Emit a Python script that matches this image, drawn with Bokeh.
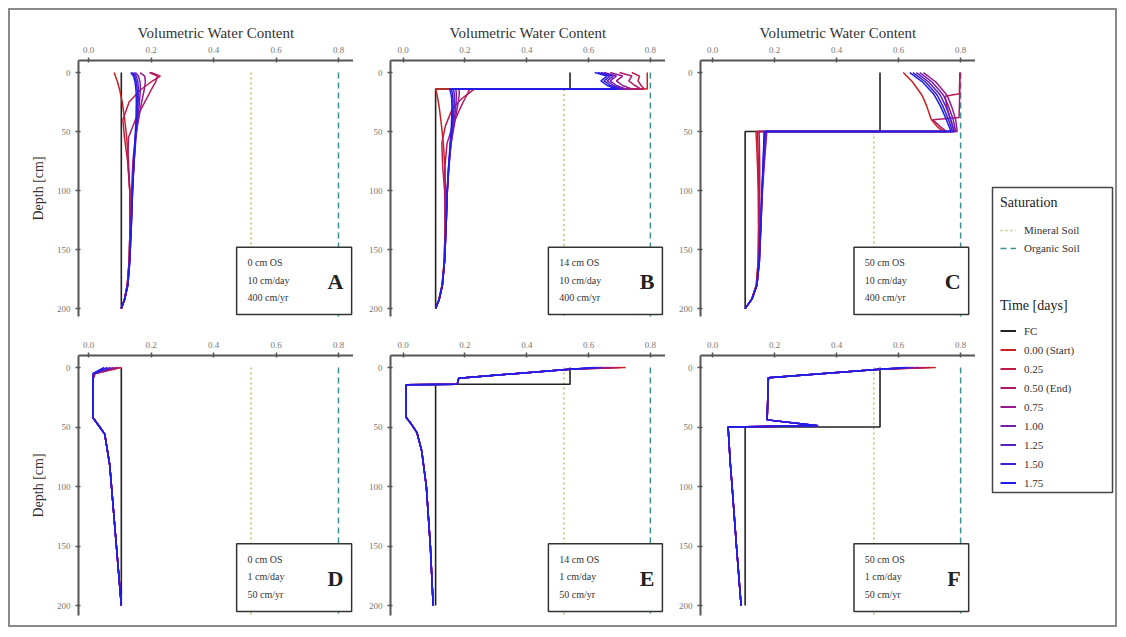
from bokeh.plotting import figure
from bokeh.models import (Range1d, FixedTicker, PrintfTickFormatter, BoxAnnotation,
                          Label, Legend, LegendItem, Spacer)
from bokeh.layouts import row, column
from bokeh.embed import file_html
from bokeh.resources import INLINE

FONT = "Liberation Serif"

# ---------------- data ----------------
TIME_LABELS = ["0.00 (Start)", "0.25", "0.50 (End)", "0.75", "1.00", "1.25", "1.50", "1.75"]
TIME_COLORS = ["#cc2020", "#c01a48", "#ae186c", "#961a8e", "#781cac", "#581ec4", "#3a1ed8", "#1e1eea"]
FC_COLOR = "#222222"
MINERAL_COLOR = "#c2c060"
ORGANIC_COLOR = "#3f9090"

X_TICKS = [0.0, 0.2, 0.4, 0.6, 0.8]
Y_TICKS = [0, 50, 100, 150, 200]
MINERAL_SAT = 0.52
ORGANIC_SAT = 0.80

PANEL_LETTERS = ["A", "B", "C", "D", "E", "F"]
PANEL_OS = ["0 cm OS", "14 cm OS", "50 cm OS", "0 cm OS", "14 cm OS", "50 cm OS"]
PANEL_RATE = ["10 cm/day", "10 cm/day", "10 cm/day", "1 cm/day", "1 cm/day", "1 cm/day"]
PANEL_ANNUAL = ["400 cm/yr", "400 cm/yr", "400 cm/yr", "50 cm/yr", "50 cm/yr", "50 cm/yr"]
MINERAL_SAT_TOP = [0, 14, 50, 0, 0, 0]

# field capacity profiles
FC_DEPTH_0 = [0, 200]
FC_THETA_0 = [0.105, 0.105]
FC_DEPTH_14 = [0, 14, 14, 200]
FC_THETA_14 = [0.54, 0.54, 0.105, 0.105]
FC_DEPTH_50 = [0, 50, 50, 200]
FC_THETA_50 = [0.54, 0.54, 0.105, 0.105]

# Panel A: 0 cm OS, 10 cm/day
A_DEPTH = [0, 3, 8, 15, 25, 40, 55, 75, 100, 130, 160, 180, 192, 200]
A_THETA = [
    [0.082, 0.086, 0.093, 0.100, 0.108, 0.116, 0.122, 0.128, 0.132, 0.133, 0.130, 0.124, 0.115, 0.105],
    [0.200, 0.230, 0.200, 0.165, 0.130, 0.110, 0.115, 0.125, 0.132, 0.133, 0.130, 0.124, 0.115, 0.105],
    [0.195, 0.220, 0.215, 0.200, 0.180, 0.150, 0.128, 0.126, 0.132, 0.133, 0.130, 0.124, 0.115, 0.105],
    [0.165, 0.180, 0.182, 0.178, 0.170, 0.160, 0.150, 0.142, 0.138, 0.135, 0.131, 0.125, 0.116, 0.105],
    [0.150, 0.160, 0.165, 0.166, 0.163, 0.158, 0.152, 0.146, 0.140, 0.136, 0.131, 0.125, 0.116, 0.105],
    [0.145, 0.153, 0.158, 0.160, 0.159, 0.156, 0.151, 0.146, 0.141, 0.137, 0.132, 0.126, 0.116, 0.105],
    [0.140, 0.148, 0.153, 0.156, 0.156, 0.154, 0.150, 0.146, 0.141, 0.137, 0.132, 0.126, 0.116, 0.105],
    [0.135, 0.144, 0.149, 0.152, 0.153, 0.152, 0.149, 0.145, 0.141, 0.137, 0.132, 0.126, 0.116, 0.105],
]

# Panel B: 14 cm OS, 10 cm/day
B_DEPTH = [0, 3, 7, 11, 14, 14, 17, 22, 30, 45, 60, 80, 100, 130, 160, 180, 192, 200]
B_THETA = [
    [0.790, 0.790, 0.790, 0.790, 0.790, 0.105, 0.108, 0.112, 0.117, 0.124, 0.130, 0.135, 0.137, 0.136, 0.133, 0.126, 0.116, 0.105],
    [0.740, 0.765, 0.760, 0.770, 0.780, 0.230, 0.215, 0.190, 0.160, 0.137, 0.125, 0.128, 0.134, 0.136, 0.133, 0.126, 0.116, 0.105],
    [0.700, 0.740, 0.730, 0.750, 0.770, 0.215, 0.210, 0.200, 0.185, 0.160, 0.142, 0.135, 0.136, 0.136, 0.133, 0.126, 0.116, 0.105],
    [0.670, 0.710, 0.690, 0.710, 0.740, 0.180, 0.182, 0.180, 0.175, 0.165, 0.155, 0.147, 0.142, 0.138, 0.134, 0.127, 0.117, 0.105],
    [0.650, 0.690, 0.670, 0.690, 0.720, 0.170, 0.172, 0.172, 0.170, 0.163, 0.155, 0.148, 0.143, 0.139, 0.134, 0.127, 0.117, 0.105],
    [0.640, 0.680, 0.660, 0.680, 0.710, 0.162, 0.165, 0.166, 0.165, 0.160, 0.154, 0.148, 0.143, 0.139, 0.134, 0.127, 0.117, 0.105],
    [0.630, 0.670, 0.650, 0.670, 0.700, 0.156, 0.159, 0.161, 0.161, 0.158, 0.153, 0.147, 0.143, 0.139, 0.134, 0.127, 0.117, 0.105],
    [0.620, 0.660, 0.640, 0.660, 0.690, 0.150, 0.154, 0.157, 0.158, 0.156, 0.152, 0.147, 0.143, 0.139, 0.134, 0.127, 0.117, 0.105],
]

# Panel C: 50 cm OS, 10 cm/day
C_DEPTH = [0, 8, 18, 20, 28, 38, 40, 46, 50, 50, 60, 80, 100, 130, 160, 180, 192, 200]
C_THETA = [
    [0.615, 0.645, 0.672, 0.677, 0.690, 0.703, 0.706, 0.725, 0.745, 0.140, 0.142, 0.145, 0.147, 0.148, 0.147, 0.141, 0.126, 0.105],
    [0.798, 0.797, 0.796, 0.750, 0.755, 0.765, 0.768, 0.775, 0.780, 0.145, 0.146, 0.148, 0.149, 0.149, 0.147, 0.141, 0.126, 0.105],
    [0.798, 0.797, 0.797, 0.797, 0.796, 0.795, 0.710, 0.735, 0.755, 0.150, 0.151, 0.152, 0.152, 0.151, 0.148, 0.142, 0.126, 0.105],
    [0.680, 0.720, 0.752, 0.757, 0.770, 0.782, 0.784, 0.787, 0.789, 0.175, 0.172, 0.166, 0.161, 0.156, 0.151, 0.143, 0.127, 0.105],
    [0.668, 0.708, 0.741, 0.746, 0.760, 0.774, 0.776, 0.781, 0.784, 0.172, 0.170, 0.165, 0.160, 0.156, 0.151, 0.143, 0.127, 0.105],
    [0.657, 0.697, 0.731, 0.736, 0.751, 0.766, 0.768, 0.775, 0.779, 0.170, 0.168, 0.164, 0.160, 0.155, 0.151, 0.143, 0.127, 0.105],
    [0.646, 0.687, 0.721, 0.726, 0.742, 0.758, 0.761, 0.769, 0.774, 0.168, 0.166, 0.163, 0.159, 0.155, 0.150, 0.143, 0.127, 0.105],
    [0.636, 0.677, 0.712, 0.717, 0.734, 0.751, 0.754, 0.763, 0.769, 0.166, 0.165, 0.162, 0.159, 0.155, 0.150, 0.143, 0.127, 0.105],
]

# Panel D: 0 cm OS, 1 cm/day
D_DEPTH = [0, 5, 10, 42, 50, 56, 82, 130, 200]
D_THETA = [
    [0.105, 0.022, 0.014, 0.014, 0.036, 0.052, 0.068, 0.083, 0.105],
    [0.100, 0.020, 0.014, 0.014, 0.036, 0.052, 0.068, 0.083, 0.105],
    [0.095, 0.019, 0.014, 0.014, 0.036, 0.052, 0.068, 0.083, 0.105],
    [0.090, 0.018, 0.014, 0.014, 0.036, 0.052, 0.068, 0.083, 0.105],
    [0.080, 0.017, 0.014, 0.014, 0.036, 0.052, 0.068, 0.083, 0.105],
    [0.070, 0.016, 0.014, 0.014, 0.036, 0.052, 0.068, 0.083, 0.105],
    [0.060, 0.015, 0.014, 0.014, 0.036, 0.052, 0.068, 0.083, 0.105],
    [0.050, 0.015, 0.014, 0.014, 0.036, 0.052, 0.068, 0.083, 0.105],
]

# Panel E: 14 cm OS, 1 cm/day
E_DEPTH = [0, 1.5, 9, 14, 14.5, 42, 47, 55, 70, 100, 150, 200]
E_THETA = [
    [0.720, 0.540, 0.180, 0.175, 0.010, 0.010, 0.025, 0.045, 0.060, 0.075, 0.088, 0.097],
    [0.700, 0.540, 0.180, 0.175, 0.010, 0.010, 0.025, 0.045, 0.060, 0.075, 0.088, 0.097],
    [0.680, 0.540, 0.180, 0.175, 0.010, 0.010, 0.025, 0.045, 0.060, 0.075, 0.088, 0.097],
    [0.665, 0.540, 0.180, 0.175, 0.010, 0.010, 0.025, 0.045, 0.060, 0.075, 0.088, 0.097],
    [0.650, 0.540, 0.180, 0.175, 0.010, 0.010, 0.025, 0.045, 0.060, 0.075, 0.088, 0.097],
    [0.640, 0.540, 0.180, 0.175, 0.010, 0.010, 0.025, 0.045, 0.060, 0.075, 0.088, 0.097],
    [0.630, 0.540, 0.180, 0.175, 0.010, 0.010, 0.025, 0.045, 0.060, 0.075, 0.088, 0.097],
    [0.620, 0.540, 0.180, 0.175, 0.010, 0.010, 0.025, 0.045, 0.060, 0.075, 0.088, 0.097],
]

# Panel F: 50 cm OS, 1 cm/day
F_DEPTH = [0, 1.5, 8.5, 44, 49, 50, 80, 100, 150, 200]
F_THETA = [
    [0.720, 0.540, 0.180, 0.176, 0.340, 0.050, 0.057, 0.063, 0.077, 0.092],
    [0.700, 0.540, 0.180, 0.176, 0.340, 0.050, 0.057, 0.063, 0.077, 0.092],
    [0.680, 0.540, 0.180, 0.176, 0.340, 0.050, 0.057, 0.063, 0.077, 0.092],
    [0.665, 0.540, 0.180, 0.176, 0.340, 0.050, 0.057, 0.063, 0.077, 0.092],
    [0.650, 0.540, 0.180, 0.176, 0.340, 0.050, 0.057, 0.063, 0.077, 0.092],
    [0.640, 0.540, 0.180, 0.176, 0.340, 0.050, 0.057, 0.063, 0.077, 0.092],
    [0.630, 0.540, 0.180, 0.176, 0.340, 0.050, 0.057, 0.063, 0.077, 0.092],
    [0.620, 0.540, 0.180, 0.176, 0.340, 0.050, 0.057, 0.063, 0.077, 0.092],
]

PANEL_DEPTHS = [A_DEPTH, B_DEPTH, C_DEPTH, D_DEPTH, E_DEPTH, F_DEPTH]
PANEL_THETAS = [A_THETA, B_THETA, C_THETA, D_THETA, E_THETA, F_THETA]
PANEL_FC = [(FC_THETA_0, FC_DEPTH_0), (FC_THETA_14, FC_DEPTH_14), (FC_THETA_50, FC_DEPTH_50),
            (FC_THETA_0, FC_DEPTH_0), (FC_THETA_14, FC_DEPTH_14), (FC_THETA_50, FC_DEPTH_50)]

# ---------------- layout constants ----------------
COL_MIN_BORDER_LEFT = [68, 37, 35]
COL_WIDTH = [343, 312, 310]
COL_XRANGE = [(-0.032, 0.848), (-0.041, 0.849), (-0.039, 0.848)]
ROW_HEIGHT = [315, 300]
ROW_MIN_BORDER_TOP = [50, 30]
ROW_MIN_BORDER_BOTTOM = [9, 10]
ROW_YRANGE = [(206.7, -10.2), (208.4, -10.1)]
BOX_LEFT = [0.474, 0.470, 0.456]
BOX_RIGHT = [0.842, 0.839, 0.826]


def make_panel(idx):
    r, c = divmod(idx, 3)
    p = figure(width=COL_WIDTH[c], height=ROW_HEIGHT[r],
               x_range=Range1d(*COL_XRANGE[c]), y_range=Range1d(*ROW_YRANGE[r]),
               x_axis_location="above", toolbar_location=None, output_backend="svg",
               min_border_left=COL_MIN_BORDER_LEFT[c], min_border_right=0,
               min_border_top=ROW_MIN_BORDER_TOP[r], min_border_bottom=ROW_MIN_BORDER_BOTTOM[r])
    p.outline_line_color = None
    p.xgrid.visible = False
    p.ygrid.visible = False
    p.background_fill_color = "white"
    p.border_fill_color = "white"

    xa = p.xaxis[0]
    ya = p.yaxis[0]
    for ax in (xa, ya):
        ax.axis_line_color = "#555555"
        ax.axis_line_width = 2
        ax.major_tick_line_color = "#555555"
        ax.major_tick_line_width = 1.5
        ax.major_tick_in = 2
        ax.major_tick_out = 3
        ax.minor_tick_line_color = None
        ax.major_label_text_font = FONT
        ax.major_label_text_font_size = "9px"
        ax.major_label_text_color = "#777777"
        ax.major_label_standoff = 5
        ax.axis_label_text_font = FONT
        ax.axis_label_text_font_style = "normal"
        ax.axis_label_text_color = "#333333"
    xa.ticker = FixedTicker(ticks=X_TICKS)
    xa.formatter = PrintfTickFormatter(format="%.1f")
    ya.ticker = FixedTicker(ticks=Y_TICKS)
    if r == 0:
        xa.axis_label = "Volumetric Water Content"
        xa.axis_label_text_font_size = "15px"
        xa.axis_label_standoff = 3
    if c == 0:
        ya.axis_label = "Depth [cm]"
        ya.axis_label_text_font_size = "14px"
        ya.axis_label_standoff = 8

    # saturation reference lines
    p.line([MINERAL_SAT, MINERAL_SAT], [MINERAL_SAT_TOP[idx], 212], line_color=MINERAL_COLOR,
           line_width=1.5, line_dash="2 3")
    p.line([ORGANIC_SAT, ORGANIC_SAT], [0, 212], line_color=ORGANIC_COLOR,
           line_width=1.5, line_dash="6 4")

    # field capacity
    fc_theta, fc_depth = PANEL_FC[idx]
    p.line(fc_theta, fc_depth, line_color=FC_COLOR, line_width=1.6)

    # time curves
    depth = PANEL_DEPTHS[idx]
    for k, theta in enumerate(PANEL_THETAS[idx]):
        p.line(theta, depth, line_color=TIME_COLORS[k], line_width=1.5)

    # annotation box
    box = BoxAnnotation(left=BOX_LEFT[c], right=BOX_RIGHT[c], top=148, bottom=205,
                        fill_color="white", fill_alpha=1.0,
                        line_color="#333333", line_alpha=1.0, line_width=1.5)
    p.add_layout(box)
    tx = BOX_LEFT[c] + 0.035
    for text, yy in zip([PANEL_OS[idx], PANEL_RATE[idx], PANEL_ANNUAL[idx]], [161, 176, 191]):
        p.add_layout(Label(x=tx, y=yy, text=text, text_font=FONT, text_font_size="10px",
                           text_color="#333333", text_baseline="middle", text_align="left"))
    p.add_layout(Label(x=BOX_RIGHT[c] - 0.026, y=177, text=PANEL_LETTERS[idx], text_font=FONT,
                       text_font_size="22px", text_font_style="bold", text_color="#222222",
                       text_baseline="middle", text_align="right"))
    return p


panels = [make_panel(i) for i in range(6)]

# ---------------- legend figure ----------------
# frame: 124 x 335 px; data units equal pixels from the frame's top-left corner
leg = figure(width=140, height=615, x_range=Range1d(0, 124), y_range=Range1d(335, 0),
             x_axis_type=None, y_axis_type=None, toolbar_location=None, output_backend="svg",
             min_border_left=15, min_border_right=1, min_border_top=175, min_border_bottom=105)
leg.outline_line_color = None
leg.background_fill_color = "white"
leg.border_fill_color = "white"
leg.add_layout(BoxAnnotation(left=2, right=122, top=2, bottom=307, fill_alpha=0,
                             line_color="#444444", line_alpha=1.0, line_width=1.5))

# legend proxies (placed outside the visible range of this frame)
PROXY_X = [500, 600]
PROXY_Y = [500, 600]
r_min = leg.line(PROXY_X, PROXY_Y, line_color=MINERAL_COLOR, line_width=1.5, line_dash="2 3")
r_org = leg.line(PROXY_X, PROXY_Y, line_color=ORGANIC_COLOR, line_width=1.5, line_dash="6 4")
r_fc = leg.line(PROXY_X, PROXY_Y, line_color=FC_COLOR, line_width=2)
r_times = [leg.line(PROXY_X, PROXY_Y, line_color=col, line_width=2) for col in TIME_COLORS]


def style_legend(lg, item_h):
    lg.padding = 0
    lg.margin = 0
    lg.spacing = 0
    lg.border_line_color = None
    lg.background_fill_alpha = 0
    lg.glyph_width = 16
    lg.glyph_height = item_h
    lg.label_height = item_h
    lg.label_standoff = 8
    lg.label_text_font = FONT
    lg.label_text_font_size = "11px"
    lg.label_text_color = "#333333"
    lg.title_text_font = FONT
    lg.title_text_font_size = "14px"
    lg.title_text_font_style = "normal"
    lg.title_text_color = "#222222"


lg1 = Legend(items=[LegendItem(label="Mineral Soil", renderers=[r_min]),
                    LegendItem(label="Organic Soil", renderers=[r_org])],
             title="Saturation", location=(10, 263))
style_legend(lg1, 18)
lg1.title_standoff = 10
leg.add_layout(lg1)

items2 = [LegendItem(label="FC", renderers=[r_fc])]
items2 += [LegendItem(label=lab, renderers=[rr]) for lab, rr in zip(TIME_LABELS, r_times)]
lg2 = Legend(items=items2, title="Time [days]", location=(10, 28))
style_legend(lg2, 19)
lg2.title_standoff = 7
leg.add_layout(lg2)

framed = row(column(row(*panels[:3]), row(*panels[3:])), leg,
             styles={"border": "2px solid #8a8a8a"})
layout = column(Spacer(height=8), row(Spacer(width=8), framed))

open("out.html", "w").write(file_html(layout, INLINE))
